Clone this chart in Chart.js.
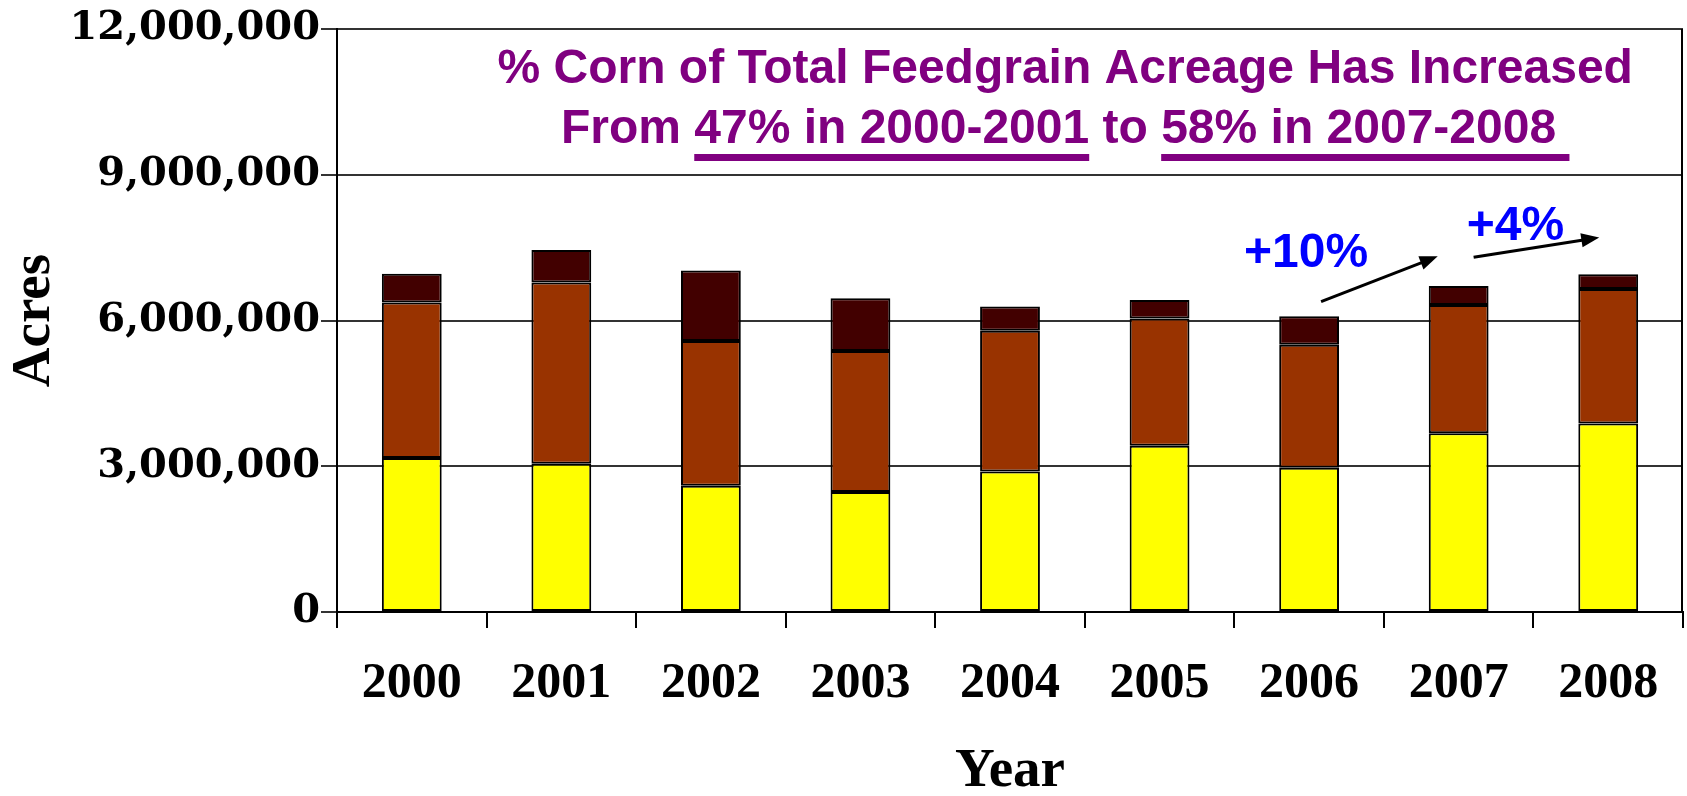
<!DOCTYPE html>
<html>
<head>
<meta charset="utf-8">
<script src="https://cdn.jsdelivr.net/npm/chart.js@4.4.1/dist/chart.umd.min.js"></script>
<style>
  html, body { margin: 0; padding: 0; background: #fff; }
  #wrap { width: 1687px; height: 796px; }
</style>
</head>
<body>
<div id="wrap"><canvas id="acreage"></canvas></div>
<script>
// values (acres)
const years = ['2000', '2001', '2002', '2003', '2004', '2005', '2006', '2007', '2008'];
const cornAcres = [3170000, 3050000, 2600000, 2470000, 2890000, 3420000, 2970000, 3680000, 3880000];
const middleAcres = [3200000, 3730000, 2980000, 2900000, 2900000, 2620000, 2530000, 2640000, 2770000];
const topAcres = [590000, 670000, 1450000, 1090000, 500000, 380000, 590000, 390000, 300000];
const yTicks = [0, 3000000, 6000000, 9000000, 12000000];

const headline = '% Corn of Total Feedgrain Acreage Has Increased';
const subParts = ['From ', '47% in 2000-2001', ' to ', '58% in 2007-2008 '];
const subUnderlined = [false, true, false, true];
const changeLabels = ['+10%', '+4%'];

const serif = "'Times New Roman', 'Liberation Serif', serif";

// arrow helper
function arrow(ctx, x1, y1, x2, y2) {
  const ang = Math.atan2(y2 - y1, x2 - x1);
  const hl = 18, hw = 7;
  ctx.beginPath();
  ctx.moveTo(x1, y1);
  ctx.lineTo(x2 - Math.cos(ang) * hl * 0.8, y2 - Math.sin(ang) * hl * 0.8);
  ctx.stroke();
  ctx.beginPath();
  ctx.moveTo(x2, y2);
  ctx.lineTo(x2 - hl * Math.cos(ang) + hw * Math.sin(ang), y2 - hl * Math.sin(ang) - hw * Math.cos(ang));
  ctx.lineTo(x2 - hl * Math.cos(ang) - hw * Math.sin(ang), y2 - hl * Math.sin(ang) + hw * Math.cos(ang));
  ctx.closePath();
  ctx.fill();
}

const overlay = {
  id: 'overlay',
  afterDraw(chart) {
    const { ctx, chartArea: a, scales: { x, y } } = chart;
    const step = x.getPixelForValue(1) - x.getPixelForValue(0);
    const px = v => x.getPixelForValue(0) + v * step;
    ctx.save();

    // right side of the plot box
    ctx.strokeStyle = '#000';
    ctx.lineWidth = 2;
    ctx.beginPath();
    ctx.moveTo(a.right - 1, a.top);
    ctx.lineTo(a.right - 1, a.bottom);
    ctx.stroke();

    // headline text
    ctx.fillStyle = '#800080';
    ctx.font = "bold 48px Arial, 'Liberation Sans', sans-serif";
    ctx.textBaseline = 'alphabetic';
    ctx.textAlign = 'center';
    const cx = a.left + a.width * 0.541;
    ctx.fillText(headline, cx, a.top + 54);

    ctx.textAlign = 'left';
    const total = subParts.reduce((s, p) => s + ctx.measureText(p).width, 0);
    let sx = cx - total / 2;
    subParts.forEach((p, i) => {
      const w = ctx.measureText(p).width;
      ctx.fillText(p, sx, a.top + 114);
      if (subUnderlined[i]) ctx.fillRect(sx, a.top + 125, w, 7);
      sx += w;
    });

    // change labels + arrows
    ctx.fillStyle = '#0000ff';
    ctx.textAlign = 'center';
    ctx.fillText(changeLabels[0], px(5.98), y.getPixelForValue(7110000));
    ctx.fillText(changeLabels[1], px(7.38), y.getPixelForValue(7650000));

    ctx.fillStyle = '#000';
    ctx.strokeStyle = '#000';
    ctx.lineWidth = 3;
    arrow(ctx, px(6.08), y.getPixelForValue(6390000), px(6.86), y.getPixelForValue(7320000));
    arrow(ctx, px(7.10), y.getPixelForValue(7300000), px(7.94), y.getPixelForValue(7710000));
    ctx.restore();
  }
};

const barStyle = { borderColor: '#000', borderWidth: 2, borderSkipped: false,
                   categoryPercentage: 0.4, barPercentage: 1 };

new Chart(document.getElementById('acreage'), {
  type: 'bar',
  data: {
    labels: years,
    datasets: [
      { label: 'Corn', data: cornAcres, backgroundColor: '#ffff00', ...barStyle },
      { label: 'Other feedgrain A', data: middleAcres, backgroundColor: '#993300', ...barStyle },
      { label: 'Other feedgrain B', data: topAcres, backgroundColor: '#420000', ...barStyle }
    ]
  },
  options: {
    responsive: true,
    maintainAspectRatio: false,
    animation: false,
    layout: { padding: { top: 29, right: 4, left: 0, bottom: 0 } },
    plugins: { legend: { display: false }, tooltip: { enabled: false } },
    scales: {
      x: {
        stacked: true,
        afterFit: s => { s.height = 184; },
        grid: { drawOnChartArea: false, tickLength: 16, color: '#000', lineWidth: 2 },
        border: { color: '#000', width: 2 },
        ticks: { color: '#000', padding: 26, font: { family: serif, size: 50, weight: 'bold' } },
        title: { display: true, text: 'Year', color: '#000', padding: 0,
                 font: { family: serif, size: 55, weight: 'bold', lineHeight: 0.87 } }
      },
      y: {
        stacked: true,
        min: 0,
        max: 12000000,
        afterFit: s => { s.width = 337; },
        afterBuildTicks: s => { s.ticks = yTicks.map(v => ({ value: v })); },
        grid: { color: '#333', lineWidth: 2, tickLength: 16 },
        border: { color: '#000', width: 2 },
        ticks: {
          color: '#000',
          padding: 1,
          font: { family: "'DejaVu Serif', serif", size: 40, weight: 'bold' },
          callback: v => v.toLocaleString('en-US')
        },
        title: { display: true, text: 'Acres', color: '#000', padding: 2,
                 font: { family: serif, size: 55, weight: 'bold' } }
      }
    }
  },
  plugins: [overlay]
});
</script>
</body>
</html>
